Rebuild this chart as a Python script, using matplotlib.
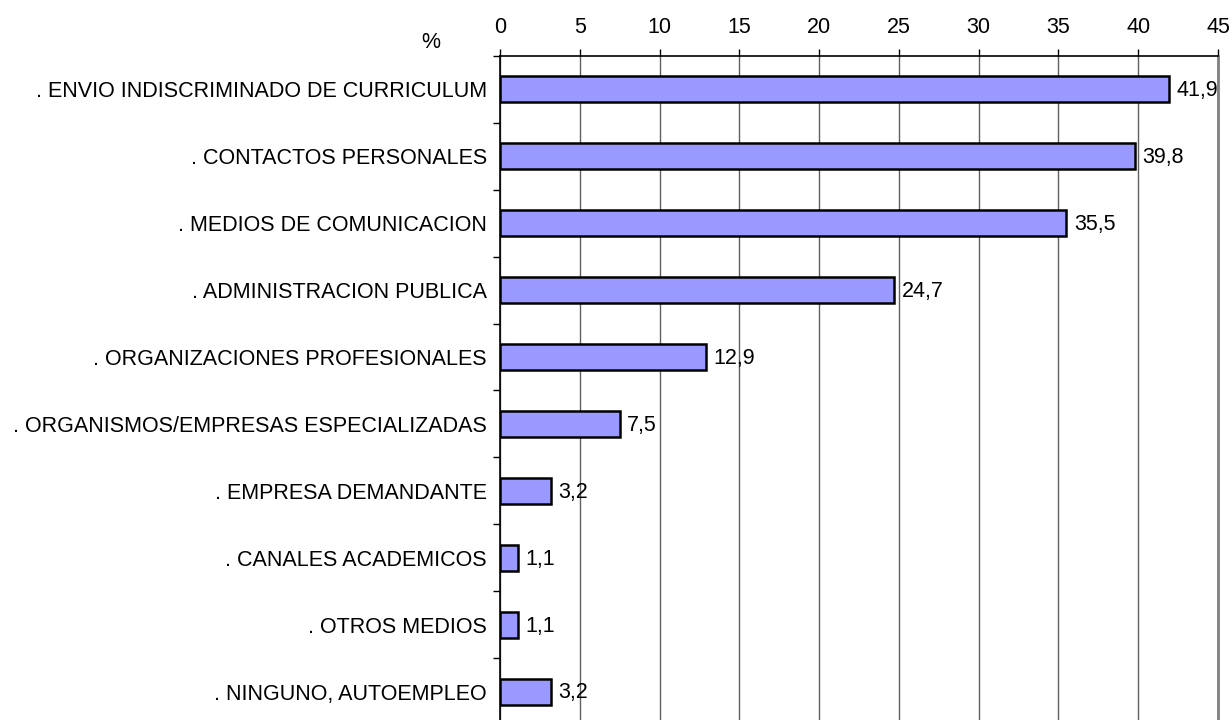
import matplotlib
matplotlib.use("Agg")
import matplotlib.pyplot as plt

# data
categories = [". ENVIO INDISCRIMINADO DE CURRICULUM",
              ". CONTACTOS PERSONALES",
              ". MEDIOS DE COMUNICACION",
              ". ADMINISTRACION PUBLICA",
              ". ORGANIZACIONES PROFESIONALES",
              ". ORGANISMOS/EMPRESAS ESPECIALIZADAS",
              ". EMPRESA DEMANDANTE",
              ". CANALES ACADEMICOS",
              ". OTROS MEDIOS",
              ". NINGUNO, AUTOEMPLEO"]
values = [41.9, 39.8, 35.5, 24.7, 12.9, 7.5, 3.2, 1.1, 1.1, 3.2]
value_labels = ["41,9", "39,8", "35,5", "24,7", "12,9", "7,5", "3,2", "1,1", "1,1", "3,2"]
x_ticks = [0, 5, 10, 15, 20, 25, 30, 35, 40, 45]

plt.rcParams['font.family'] = ['Liberation Sans', 'DejaVu Sans']
fs = 15.5

fig = plt.figure(figsize=(12.32, 7.2), dpi=100)
# axes: left 500px, right 1218px, top 56px, bottom runs past the image (725px)
ax = fig.add_axes([500/1232, (720-725)/720, (1218-500)/1232, (725-56)/720])

pos = list(range(len(categories)))
ax.barh(pos, values, height=0.39, color="#9999FF", edgecolor="black", linewidth=1.8, zorder=3)

for p, v, lab in zip(pos, values, value_labels):
    ax.annotate(lab, (v, p), xytext=(5.5, -1), textcoords="offset points",
                va="center", ha="left", fontsize=fs, zorder=4)

ax.set_xlim(0, 45)
ax.set_ylim(9.5, -0.5)
ax.set_xticks(x_ticks)
ax.xaxis.tick_top()
ax.tick_params(axis="x", direction="out", length=5, width=1, labelsize=fs, pad=8)
ax.xaxis.grid(True, color="#606060", linewidth=1, zorder=0)

ax.set_yticks(pos)
ax.set_yticklabels(categories, fontsize=fs)
ax.tick_params(axis="y", which="major", length=0, pad=9.5)
ax.set_yticks([p - 0.5 for p in pos], minor=True)
ax.tick_params(axis="y", which="minor", direction="out", length=5, width=1)

for s in ["top", "left"]:
    ax.spines[s].set_color("black")
    ax.spines[s].set_linewidth(1.2)
ax.spines["bottom"].set_visible(False)
ax.spines["right"].set_color("#808080")
ax.spines["right"].set_linewidth(2)

fig.text(431/1232, 1 - 42/720, "%", fontsize=fs, ha="center", va="center")

fig.savefig("out.png", dpi=100)
